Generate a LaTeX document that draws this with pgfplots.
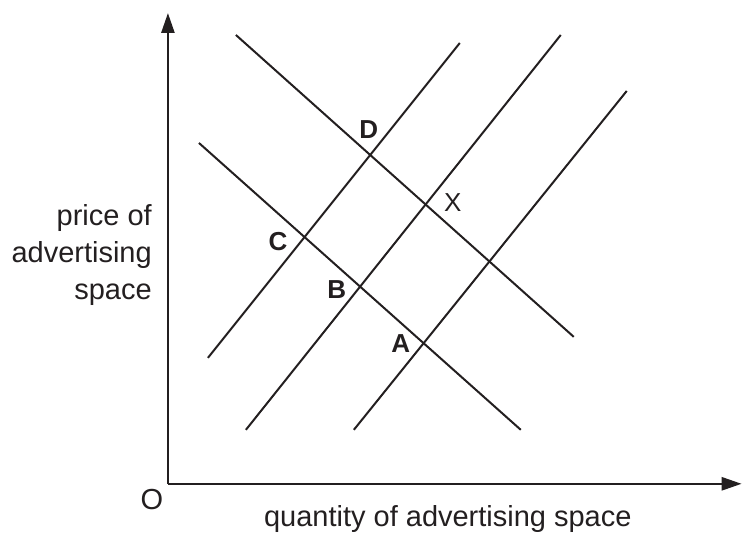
\documentclass[border=0pt]{standalone}
\usepackage{pgfplots}
\pgfplotsset{compat=1.18}
\usepackage{fontspec}
\setmainfont{Liberation Sans}
\usetikzlibrary{arrows.meta}
\definecolor{ink}{RGB}{35,31,32}

\begin{document}
\begin{tikzpicture}[
  curve/.style={ink, line width=2bp, mark=none},
  lbl/.style={inner sep=0pt, anchor=base, text=ink, font=\fontsize{26bp}{30bp}\selectfont\bfseries},
  txt/.style={inner sep=0pt, text=ink, font=\fontsize{29bp}{37bp}\selectfont},
]
\begin{axis}[
  scale only axis, width=574bp, height=471bp,
  xmin=0, xmax=574, ymin=0, ymax=471,
  axis lines=left,
  axis line style={ink, line width=2.6bp, -{Triangle[length=20bp,width=13bp]}},
  xtick=\empty, ytick=\empty, clip=false,
]
% fixed page size: 743 x 535
\path (axis cs:-168,-51) rectangle (axis cs:575,484);

% demand curves
\addplot[curve] coordinates {(68,449) (406,147)};
\addplot[curve] coordinates {(31,341) (353,54)};
% supply curves
\addplot[curve] coordinates {(40,126) (292,441)};
\addplot[curve] coordinates {(78,54) (393,449)};
\addplot[curve] coordinates {(186,54) (459,393)};

% point labels
\node[lbl] at (axis cs:201,345) {D};
\node[lbl, font=\fontsize{26bp}{30bp}\selectfont] at (axis cs:285,272) {X};
\node[lbl] at (axis cs:110,233) {C};
\node[lbl] at (axis cs:169,185) {B};
\node[lbl] at (axis cs:233,131) {A};

% axis texts
\node[txt, anchor=base] at (axis cs:-16,-26) {O};
\node[txt, anchor=base] at (axis cs:280,-43) {quantity of advertising space};
\node[txt, anchor=base east] at (axis cs:-16,258) {price of};
\node[txt, anchor=base east] at (axis cs:-16,221) {advertising};
\node[txt, anchor=base east] at (axis cs:-16,184) {space};
\end{axis}
\end{tikzpicture}
\end{document}
